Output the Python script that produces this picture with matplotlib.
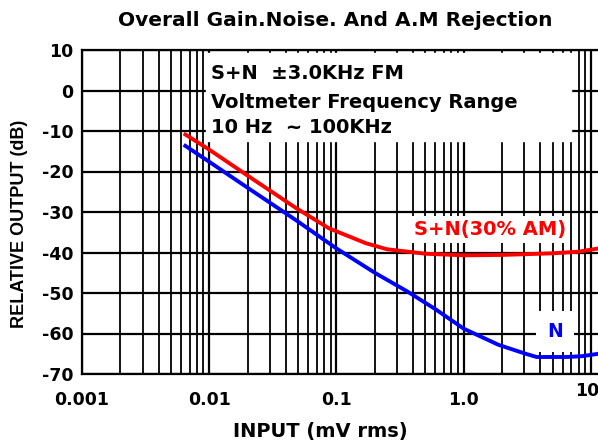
import numpy as np
import matplotlib.pyplot as plt
from matplotlib.ticker import FixedLocator, NullFormatter, LogLocator

plt.rcParams['axes.unicode_minus'] = False

# data
sn_x = [0.0063, 0.01, 0.02, 0.048, 0.087, 0.17, 0.25, 0.5, 1.0, 2.0, 5.0, 8.0, 11.5]
sn_db = [-10.6, -14.6, -21.0, -29.0, -34.0, -37.7, -39.2, -40.3, -40.7, -40.6, -40.2, -39.8, -39.0]
n_x = [0.0063, 0.01, 0.02, 0.048, 0.1, 0.2, 0.36, 0.6, 1.0, 1.88, 3.0, 3.74, 6.5, 8.5, 11.5]
n_db = [-13.4, -17.6, -24.0, -32.0, -39.0, -45.0, -49.6, -54.0, -58.8, -62.8, -64.9, -65.8, -65.8, -65.6, -65.0]

x_ticks = [0.001, 0.01, 0.1, 1.0, 10]
x_labels = ['0.001', '0.01', '0.1', '1.0', '']
y_ticks = [10, 0, -10, -20, -30, -40, -50, -60, -70]

box_lines = ['S+N  \u00b13.0KHz FM', 'Voltmeter Frequency Range', '10 Hz  ~ 100KHz']
box_y = [4.3, -2.9, -9.1]

fig = plt.figure(figsize=(5.98, 4.43), dpi=100)
ax = fig.add_axes([82/598, 1 - 374/443, 518/598, 324/443])

ax.set_xscale('log')
ax.set_xlim(0.001, 11.8)
ax.set_ylim(-70, 10)

ax.xaxis.set_major_locator(FixedLocator(x_ticks))
ax.xaxis.set_minor_locator(LogLocator(base=10, subs=np.arange(2, 10)))
ax.xaxis.set_minor_formatter(NullFormatter())
ax.set_xticks(x_ticks)
ax.set_xticklabels(x_labels)
ax.set_yticks(y_ticks)

ax.grid(True, which='major', color='black', lw=1.6)
ax.grid(True, which='minor', axis='x', color='black', lw=1.3)
ax.tick_params(which='both', length=0)
ax.tick_params(axis='x', pad=12)
ax.tick_params(axis='y', pad=6)
for lab in ax.get_xticklabels() + ax.get_yticklabels():
    lab.set_fontfamily('DejaVu Sans')
    lab.set_fontweight('bold')
    lab.set_fontsize(12.5)

for s in ax.spines.values():
    s.set_linewidth(1.6)
ax.spines['right'].set_visible(False)

# last x label sits a little higher and inside the picture
fig.text(587/598, 1 - 391/443, '10', fontsize=12.5, fontweight='bold',
         family='DejaVu Sans', ha='center', va='center')

# white box with the test conditions (covers the grid)
ax.axvspan(0.0095, 7.0, ymin=(-12.5 + 70) / 80, ymax=(9.3 + 70) / 80, color='white', zorder=2)
for t, yy in zip(box_lines, box_y):
    ax.text(0.0104, yy, t, fontsize=14, fontweight='bold',
            family='DejaVu Sans', va='center', ha='left', zorder=3)

ax.plot(sn_x, sn_db, color='#ff0000', lw=2.8, zorder=4, solid_capstyle='butt')
ax.plot(n_x, n_db, color='#0000ff', lw=2.8, zorder=4, solid_capstyle='butt')

ax.text(1.6, -34.3, 'S+N(30% AM)', color='#ff0000', fontsize=14, fontweight='bold',
        family='DejaVu Sans', ha='center', va='center', zorder=3,
        bbox=dict(facecolor='white', edgecolor='none', pad=3))
ax.text(5.2, -59.5, 'N', color='#0000ff', fontsize=13.5, fontweight='bold',
        family='DejaVu Sans', ha='center', va='center', zorder=3,
        bbox=dict(facecolor='white', edgecolor='none', pad=8))

fig.text(335/598, 1 - 20/443, 'Overall Gain.Noise. And A.M Rejection', fontsize=14.5,
         fontweight='bold', family='DejaVu Sans', ha='center', va='center')
fig.text(20/598, 1 - 224/443, 'RELATIVE OUTPUT (dB)', fontsize=13, fontweight='bold',
         family='Liberation Sans', ha='center', va='center', rotation=90)
fig.text(320/598, 1 - 432/443, 'INPUT (mV rms)', fontsize=14, fontweight='bold',
         family='DejaVu Sans', ha='center', va='center')

fig.savefig('out.png', dpi=100)
